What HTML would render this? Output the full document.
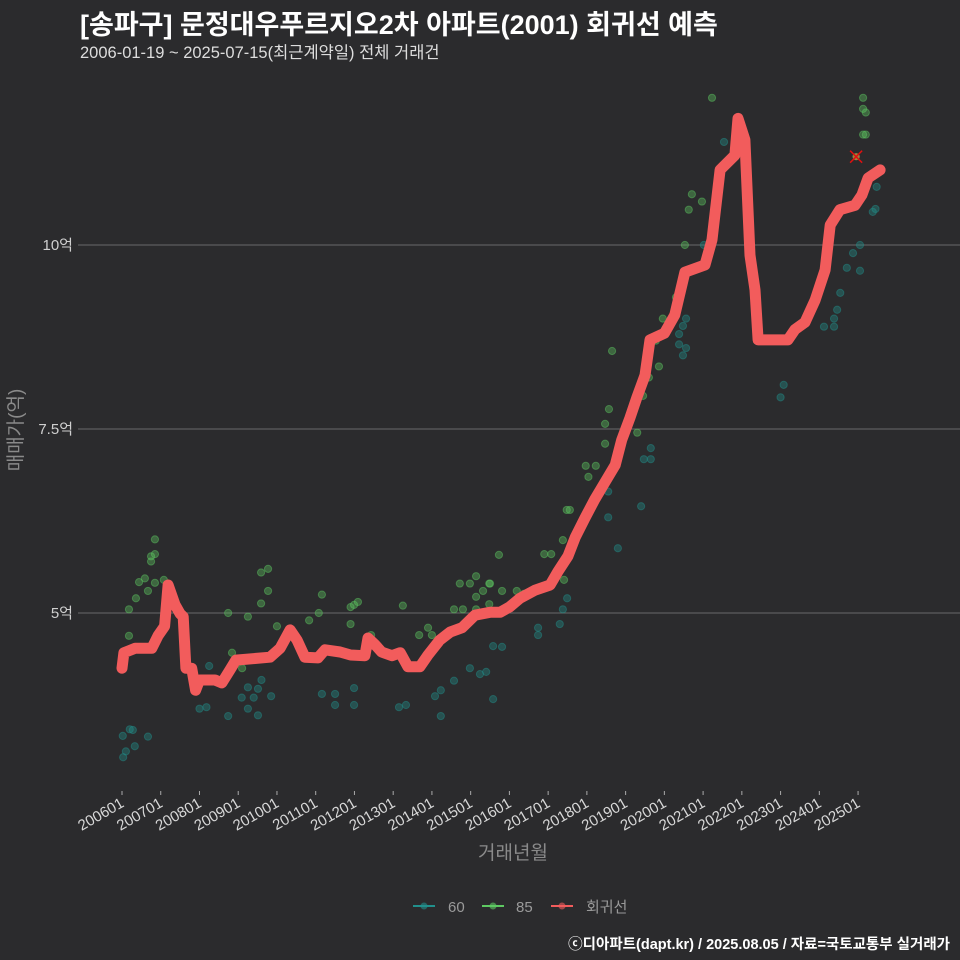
<!DOCTYPE html>
<html><head><meta charset="utf-8">
<style>
html,body{margin:0;padding:0;background:#2b2b2d;}
#wrap{position:relative;width:960px;height:960px;background:#2b2b2d;font-family:"Liberation Sans","Noto Sans CJK KR",sans-serif;overflow:hidden}
.t{position:absolute;white-space:nowrap}
</style></head>
<body>
<div id="wrap">
<div class="t" style="left:80px;top:3px;font-size:27px;font-weight:bold;color:#fff">[송파구] 문정대우푸르지오2차 아파트(2001) 회귀선 예측</div>
<div class="t" style="left:80px;top:39px;font-size:16.5px;color:#ddd">2006-01-19 ~ 2025-07-15(최근계약일) 전체 거래건</div>
<svg id="plot" width="960" height="960" style="position:absolute;left:0;top:0" xmlns="http://www.w3.org/2000/svg"></svg>
<div class="t" style="right:10px;top:933px;font-size:14.5px;font-weight:bold;color:#fff">ⓒ디아파트(dapt.kr) / 2025.08.05 / 자료=국토교통부 실거래가</div>
</div>
<script>
const yTicks=[5,7.5,10];
const yTickLabels=["5억","7.5억","10억"];
const xTickYears=[2006,2007,2008,2009,2010,2011,2012,2013,2014,2015,2016,2017,2018,2019,2020,2021,2022,2023,2024,2025];
const xTickLabels=["200601","200701","200801","200901","201001","201101","201201","201301","201401","201501","201601","201701","201801","201901","202001","202101","202201","202301","202401","202501"];
const lineT=[2006.0,2006.05,2006.34,2006.77,2006.93,2007.1,2007.19,2007.37,2007.5,2007.58,2007.65,2007.8,2007.9,2008.0,2008.4,2008.58,2008.79,2008.94,2009.82,2010.08,2010.34,2010.52,2010.72,2011.06,2011.24,2011.63,2011.9,2012.27,2012.35,2012.53,2012.7,2012.97,2013.18,2013.38,2013.69,2013.9,2014.2,2014.47,2014.78,2015.11,2015.5,2015.76,2016.0,2016.27,2016.66,2017.05,2017.25,2017.51,2017.7,2017.95,2018.2,2018.47,2018.73,2018.9,2019.11,2019.29,2019.5,2019.63,2020.0,2020.27,2020.53,2021.05,2021.23,2021.44,2021.82,2021.9,2022.08,2022.21,2022.34,2022.42,2023.19,2023.37,2023.63,2023.89,2024.15,2024.28,2024.53,2024.92,2025.1,2025.26,2025.57];
const lineV=[4.25,4.46,4.52,4.52,4.69,4.82,5.38,5.11,4.99,4.95,4.25,4.25,3.95,4.09,4.09,4.05,4.23,4.36,4.40,4.52,4.77,4.63,4.40,4.39,4.5,4.47,4.43,4.42,4.66,4.57,4.47,4.42,4.46,4.27,4.27,4.43,4.63,4.74,4.8,4.97,5.01,5.01,5.08,5.2,5.31,5.38,5.56,5.77,6.03,6.29,6.54,6.78,7.01,7.35,7.65,7.93,8.23,8.71,8.8,9.05,9.63,9.73,10.07,11.02,11.22,11.72,11.43,9.86,9.39,8.71,8.71,8.85,8.95,9.25,9.66,10.27,10.48,10.54,10.68,10.91,11.02];
const s60T=[2006.02,2006.2,2006.28,2006.1,2006.03,2006.33,2006.67,2008.25,2008.0,2008.18,2008.74,2009.25,2009.51,2009.6,2009.09,2009.4,2009.25,2009.51,2009.85,2011.16,2011.5,2011.5,2011.99,2011.99,2013.15,2013.33,2014.08,2014.23,2014.23,2014.57,2014.98,2015.24,2015.4,2015.58,2015.81,2015.58,2016.74,2016.74,2017.3,2017.38,2017.49,2018.8,2018.55,2018.55,2019.4,2019.47,2019.65,2019.65,2020.38,2020.48,2020.56,2020.48,2020.56,2020.38,2021.02,2021.54,2023.0,2023.08,2024.12,2024.38,2024.38,2024.46,2024.54,2024.71,2024.87,2025.05,2025.05,2025.38,2025.45,2025.48];
const s60V=[3.33,3.42,3.41,3.12,3.04,3.19,3.32,4.28,3.70,3.72,3.6,3.99,3.97,4.09,3.85,3.85,3.7,3.61,3.87,3.9,3.9,3.75,3.98,3.75,3.72,3.75,3.87,3.95,3.6,4.08,4.25,4.17,4.2,4.55,4.54,3.83,4.8,4.7,4.85,5.05,5.2,5.88,6.3,6.65,6.45,7.09,7.09,7.24,8.79,8.9,9.0,8.5,8.6,8.65,10.0,11.4,7.93,8.1,8.89,8.89,9.0,9.12,9.35,9.69,9.89,10.0,9.65,10.45,10.49,10.79];
const s85T=[2006.18,2006.18,2006.36,2006.44,2006.59,2006.67,2006.75,2006.75,2006.85,2006.85,2006.85,2007.08,2008.74,2008.84,2009.1,2009.25,2009.59,2009.77,2009.77,2009.59,2010.0,2010.83,2011.08,2011.16,2011.9,2011.99,2012.09,2011.9,2012.43,2013.25,2013.67,2013.9,2014.0,2014.57,2014.72,2014.98,2015.14,2015.14,2015.32,2015.48,2015.48,2015.73,2015.81,2015.14,2014.8,2015.5,2016.19,2016.37,2016.9,2017.08,2017.38,2017.48,2017.56,2017.41,2017.97,2018.23,2018.04,2018.47,2018.47,2018.57,2019.3,2018.65,2019.45,2019.6,2019.86,2019.78,2019.96,2020.3,2020.53,2020.53,2020.63,2020.71,2020.97,2021.23,2025.13,2025.13,2025.2,2025.13,2025.2];
const s85V=[4.69,5.05,5.2,5.42,5.47,5.3,5.7,5.77,5.8,6.0,5.41,5.45,5.0,4.46,4.25,4.95,5.55,5.6,5.3,5.13,4.82,4.9,5.0,5.25,5.08,5.11,5.15,4.85,4.7,5.1,4.7,4.8,4.7,5.05,5.4,5.4,5.5,5.22,5.3,5.4,5.12,5.79,5.3,5.05,5.05,5.4,5.3,5.26,5.8,5.8,5.99,6.4,6.4,5.45,7.0,7.0,6.85,7.3,7.57,7.77,7.45,8.56,7.95,8.2,8.35,8.7,9.0,9.29,9.59,10.0,10.48,10.69,10.59,12.0,12.0,11.85,11.8,11.5,11.5];
const outlierT=[2024.95];
const outlierV=[11.2];

const NS="http://www.w3.org/2000/svg";
const svg=document.getElementById('plot');
function sx(t){return 122+(t-2006)*38.74;}
function sy(v){return 613-(v-5)*73.6;}
function mk(tag,attrs,parent){const e=document.createElementNS(NS,tag);for(const k in attrs)e.setAttribute(k,attrs[k]);(parent||svg).appendChild(e);return e;}

yTicks.forEach((v,i)=>{
  const g=mk('line',{x1:78,x2:960,y1:sy(v),y2:sy(v),stroke:'#6a6a6a','stroke-width':1});
  
  
  const t=mk('text',{x:73,y:sy(v)+5,'text-anchor':'end','font-size':15,fill:'#cfcfcf','font-family':'"Liberation Sans","Noto Sans CJK KR",sans-serif'});
  t.textContent=yTickLabels[i];
  
  
});
xTickYears.forEach((yr,i)=>{
  const x=sx(yr);
  const tk=mk('line',{x1:x,x2:x,y1:791,y2:795,stroke:'#aaa','stroke-width':1});
  
  
  const t=mk('text',{x:x+3,y:806,'text-anchor':'end','font-size':15,fill:'#d8d8d8',transform:`rotate(-30 ${x+3} 806)`,'font-family':'"Liberation Sans",sans-serif'});
  t.textContent=xTickLabels[i];
  
  
});
function pts(T,V,col,name){
  T.forEach((t,i)=>{
    const c=mk('circle',{cx:sx(t),cy:sy(V[i]),r:3.6,fill:col,'fill-opacity':0.38,stroke:col,'stroke-opacity':0.45,'stroke-width':1});
    
    
  });
}
pts(s60T,s60V,'#21908c','point-60');
pts(s85T,s85V,'#5ec962','point-85');
const d=lineT.map((t,i)=>(i?'L':'M')+sx(t).toFixed(1)+','+sy(lineV[i]).toFixed(1)).join(' ');
const ln=mk('path',{d:d,fill:'none',stroke:'#f25c5c','stroke-width':11,'stroke-linejoin':'round','stroke-linecap':'round'});


outlierT.forEach((t,i)=>{
  const x=sx(t),y=sy(outlierV[i]);
  const g=mk('g',{});
  
  
  mk('circle',{cx:x,cy:y,r:3.6,fill:'#b5a040','fill-opacity':0.8},g);
  mk('path',{d:`M${x-6},${y-6}L${x+6},${y+6}M${x-6},${y+6}L${x+6},${y-6}`,stroke:'#e01010','stroke-width':1.5},g);
});
const yt=mk('text',{x:22,y:430,'text-anchor':'middle','font-size':19,fill:'#8a8a8a',transform:'rotate(-90 22 430)','font-family':'"Liberation Sans","Noto Sans CJK KR",sans-serif'});
yt.textContent='매매가(억)';


const xt=mk('text',{x:513,y:859,'text-anchor':'middle','font-size':19,fill:'#8a8a8a','font-family':'"Liberation Sans","Noto Sans CJK KR",sans-serif'});
xt.textContent='거래년월';


const legendItems=[['60','#21908c',413,448],['85','#5ec962',482,516],['회귀선','#f25c5c',551,586]];
legendItems.forEach(([lab,col,x0,tx])=>{
  const g=mk('g',{});
  
  
  mk('line',{x1:x0,x2:x0+22,y1:906,y2:906,stroke:col,'stroke-width':2},g);
  mk('circle',{cx:x0+11,cy:906,r:3.5,fill:col,'fill-opacity':0.6},g);
  const t=mk('text',{x:tx,y:912,'font-size':15,fill:'#9a9a9a','font-family':'"Liberation Sans","Noto Sans CJK KR",sans-serif'},g);
  t.textContent=lab;
});
</script>
</body></html>
